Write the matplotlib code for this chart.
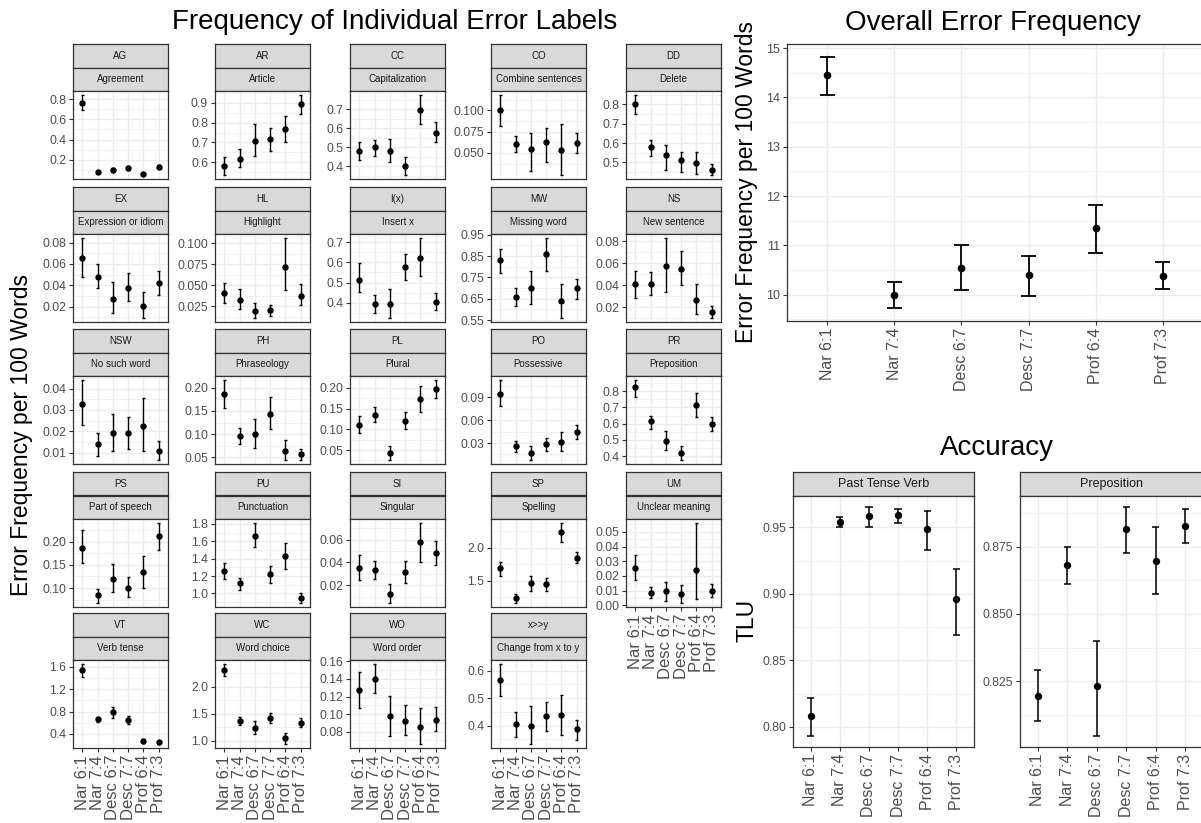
import matplotlib
matplotlib.use("Agg")
import matplotlib.pyplot as plt
import numpy as np

plt.rcParams['font.family'] = ['Liberation Sans', 'DejaVu Sans']

groups = ['Nar 6:1', 'Nar 7:4', 'Desc 6:7', 'Desc 7:7', 'Prof 6:4', 'Prof 7:3']

# error labels (facet grid)
codes = ['AG', 'AR', 'CC', 'CO', 'DD', 'EX', 'HL', 'I(x)', 'MW', 'NS', 'NSW', 'PH',
         'PL', 'PO', 'PR', 'PS', 'PU', 'SI', 'SP', 'UM', 'VT', 'WC', 'WO', 'x>>y']
names = ['Agreement', 'Article', 'Capitalization', 'Combine sentences', 'Delete',
         'Expression or idiom', 'Highlight', 'Insert x', 'Missing word', 'New sentence',
         'No such word', 'Phraseology', 'Plural', 'Possessive', 'Preposition',
         'Part of speech', 'Punctuation', 'Singular', 'Spelling', 'Unclear meaning',
         'Verb tense', 'Word choice', 'Word order', 'Change from x to y']

means = [
    [0.76, 0.08, 0.10, 0.12, 0.06, 0.13],
    [0.58, 0.615, 0.705, 0.715, 0.77, 0.895],
    [0.48, 0.50, 0.48, 0.40, 0.695, 0.575],
    [0.100, 0.060, 0.054, 0.063, 0.053, 0.062],
    [0.80, 0.582, 0.536, 0.515, 0.497, 0.463],
    [0.066, 0.048, 0.027, 0.038, 0.021, 0.042],
    [0.041, 0.032, 0.019, 0.021, 0.0715, 0.037],
    [0.515, 0.395, 0.393, 0.575, 0.62, 0.403],
    [0.83, 0.66, 0.70, 0.86, 0.64, 0.70],
    [0.041, 0.041, 0.057, 0.055, 0.0265, 0.0155],
    [0.033, 0.014, 0.0193, 0.0193, 0.0225, 0.011],
    [0.186, 0.0965, 0.10, 0.144, 0.064, 0.056],
    [0.11, 0.135, 0.044, 0.12, 0.173, 0.198],
    [0.0947, 0.0257, 0.0171, 0.0283, 0.031, 0.0446],
    [0.824, 0.614, 0.496, 0.42, 0.713, 0.60],
    [0.187, 0.0843, 0.12, 0.101, 0.134, 0.211],
    [1.258, 1.115, 1.66, 1.22, 1.425, 0.95],
    [0.0348, 0.0336, 0.0119, 0.0313, 0.0577, 0.0484],
    [1.69, 1.24, 1.465, 1.45, 2.24, 1.85],
    [0.0256, 0.0082, 0.0096, 0.0078, 0.0238, 0.010],
    [1.54, 0.66, 0.79, 0.645, 0.27, 0.25],
    [2.31, 1.37, 1.245, 1.43, 1.05, 1.325],
    [0.127, 0.14, 0.098, 0.0925, 0.0857, 0.0937],
    [0.564, 0.406, 0.40, 0.436, 0.44, 0.386],
]
lows = [
    [0.69, 0.07, 0.08, 0.10, 0.05, 0.12],
    [0.535, 0.575, 0.63, 0.655, 0.70, 0.845],
    [0.431, 0.452, 0.42, 0.353, 0.624, 0.528],
    [0.082, 0.0507, 0.0285, 0.0388, 0.024, 0.050],
    [0.752, 0.532, 0.462, 0.449, 0.44, 0.435],
    [0.0474, 0.0375, 0.0145, 0.025, 0.0095, 0.031],
    [0.029, 0.022, 0.011, 0.013, 0.044, 0.027],
    [0.455, 0.35, 0.325, 0.515, 0.53, 0.363],
    [0.77, 0.615, 0.625, 0.78, 0.56, 0.65],
    [0.028, 0.031, 0.034, 0.040, 0.0135, 0.010],
    [0.023, 0.0086, 0.0106, 0.0118, 0.011, 0.0066],
    [0.156, 0.079, 0.07, 0.111, 0.044, 0.045],
    [0.09, 0.118, 0.026, 0.10, 0.141, 0.176],
    [0.078, 0.0186, 0.0077, 0.019, 0.020, 0.0356],
    [0.764, 0.57, 0.44, 0.376, 0.64, 0.557],
    [0.154, 0.068, 0.0914, 0.08, 0.101, 0.182],
    [1.17, 1.04, 1.53, 1.115, 1.28, 0.89],
    [0.0241, 0.0255, 0.0043, 0.022, 0.0406, 0.038],
    [1.575, 1.165, 1.35, 1.34, 2.09, 1.765],
    [0.0171, 0.0051, 0.0029, 0.0016, 0.0044, 0.006],
    [1.42, 0.61, 0.68, 0.57, 0.23, 0.22],
    [2.19, 1.29, 1.12, 1.32, 0.94, 1.25],
    [0.107, 0.124, 0.075, 0.076, 0.066, 0.081],
    [0.506, 0.36, 0.333, 0.382, 0.364, 0.348],
]
highs = [
    [0.84, 0.09, 0.12, 0.14, 0.07, 0.145],
    [0.625, 0.665, 0.795, 0.775, 0.835, 0.94],
    [0.529, 0.538, 0.545, 0.448, 0.774, 0.633],
    [0.118, 0.0698, 0.073, 0.0788, 0.084, 0.073],
    [0.848, 0.617, 0.59, 0.553, 0.553, 0.494],
    [0.0843, 0.0597, 0.043, 0.052, 0.034, 0.0537],
    [0.053, 0.045, 0.029, 0.027, 0.106, 0.051],
    [0.595, 0.44, 0.47, 0.64, 0.72, 0.45],
    [0.885, 0.70, 0.78, 0.935, 0.72, 0.745],
    [0.053, 0.052, 0.083, 0.071, 0.041, 0.021],
    [0.044, 0.0194, 0.0283, 0.0265, 0.0355, 0.0153],
    [0.217, 0.114, 0.132, 0.18, 0.088, 0.068],
    [0.133, 0.155, 0.059, 0.143, 0.205, 0.219],
    [0.1127, 0.033, 0.0266, 0.037, 0.045, 0.0536],
    [0.869, 0.648, 0.557, 0.46, 0.786, 0.64],
    [0.225, 0.099, 0.151, 0.124, 0.169, 0.24],
    [1.355, 1.18, 1.81, 1.31, 1.58, 1.0],
    [0.046, 0.041, 0.021, 0.041, 0.0745, 0.0585],
    [1.78, 1.30, 1.575, 1.54, 2.375, 1.94],
    [0.034, 0.0127, 0.0162, 0.014, 0.056, 0.0144],
    [1.65, 0.70, 0.89, 0.72, 0.30, 0.27],
    [2.42, 1.44, 1.36, 1.52, 1.14, 1.42],
    [0.148, 0.157, 0.121, 0.11, 0.107, 0.108],
    [0.624, 0.451, 0.473, 0.487, 0.513, 0.422],
]
tick_labels = [
    ['0.2', '0.4', '0.6', '0.8'], ['0.6', '0.7', '0.8', '0.9'],
    ['0.4', '0.5', '0.6', '0.7'], ['0.050', '0.075', '0.100'],
    ['0.5', '0.6', '0.7', '0.8'], ['0.02', '0.04', '0.06', '0.08'],
    ['0.025', '0.050', '0.075', '0.100'], ['0.4', '0.5', '0.6', '0.7'],
    ['0.55', '0.65', '0.75', '0.85', '0.95'], ['0.02', '0.04', '0.06', '0.08'],
    ['0.01', '0.02', '0.03', '0.04'], ['0.05', '0.10', '0.15', '0.20'],
    ['0.05', '0.10', '0.15', '0.20'], ['0.03', '0.06', '0.09'],
    ['0.4', '0.5', '0.6', '0.7', '0.8'], ['0.10', '0.15', '0.20'],
    ['1.0', '1.2', '1.4', '1.6', '1.8'], ['0.02', '0.04', '0.06'],
    ['1.5', '2.0'], ['0.00', '0.01', '0.02', '0.03', '0.04', '0.05'],
    ['0.4', '0.8', '1.2', '1.6'], ['1.0', '1.5', '2.0'],
    ['0.08', '0.10', '0.12', '0.14', '0.16'], ['0.4', '0.5', '0.6'],
]

# overall error frequency
overall_mean = [14.45, 10.0, 10.54, 10.39, 11.35, 10.37]
overall_lo = [14.06, 9.72, 10.10, 9.98, 10.85, 10.12]
overall_hi = [14.83, 10.26, 11.0, 10.78, 11.82, 10.67]
overall_ticks = ['10', '11', '12', '13', '14', '15']

# accuracy (TLU)
acc_panels = ['Past Tense Verb', 'Preposition']
acc_mean = [[0.808, 0.9543, 0.9585, 0.959, 0.9488, 0.896],
            [0.8194, 0.8682, 0.8234, 0.8815, 0.8698, 0.8826]]
acc_lo = [[0.7935, 0.950, 0.9505, 0.9535, 0.9333, 0.869],
          [0.8102, 0.8612, 0.8048, 0.8728, 0.8574, 0.8765]]
acc_hi = [[0.822, 0.958, 0.965, 0.9638, 0.9625, 0.919],
          [0.8293, 0.875, 0.840, 0.8896, 0.8822, 0.8891]]
acc_ticks = [['0.80', '0.85', '0.90', '0.95'], ['0.825', '0.850', '0.875']]

W, H = 1201, 823
GRID = '#EBEBEB'
EDGE = '#333333'
TXT = '#4D4D4D'
STRIP = '#D9D9D9'

fig = plt.figure(figsize=(W / 100, H / 100), dpi=100)


def add_box(l, t, r, b):
    return fig.add_axes([l / W, 1 - b / H, (r - l) / W, (b - t) / H])


def strip(l, t, r, b, text, fs):
    s = add_box(l, t, r, b)
    s.set_facecolor(STRIP)
    s.set_xticks([])
    s.set_yticks([])
    for sp in s.spines.values():
        sp.set_color(EDGE)
        sp.set_linewidth(0.9)
    s.text(0.5, 0.5, text, ha='center', va='center', fontsize=fs, color='#1A1A1A',
           transform=s.transAxes)


def panel(ax, m, lo, hi, labels, ytick_fs, show_x, xtick_fs, ms, lw, cap):
    x = np.arange(1, len(m) + 1)
    ax.vlines(x, lo, hi, color='black', lw=lw, zorder=3)
    ax.hlines(lo, x - cap / 2, x + cap / 2, color='black', lw=lw, zorder=3)
    ax.hlines(hi, x - cap / 2, x + cap / 2, color='black', lw=lw, zorder=3)
    ax.plot(x, m, 'o', color='black', ms=ms, zorder=4)

    ticks = [float(t) for t in labels]
    step = ticks[1] - ticks[0]
    minor = np.arange(ticks[0] - step / 2, ticks[-1] + step * 0.6, step)
    ax.set_yticks(ticks)
    ax.set_yticklabels(labels)
    ax.set_yticks(minor, minor=True)
    ax.set_xticks(x)
    if show_x:
        ax.set_xticklabels(groups, rotation=90, fontsize=xtick_fs, color=TXT)
    else:
        ax.tick_params(axis='x', bottom=False, labelbottom=False)
    ax.grid(which='major', color=GRID, lw=1.0)
    ax.grid(which='minor', axis='y', color=GRID, lw=0.5)
    ax.set_axisbelow(True)
    ax.tick_params(which='minor', length=0)
    ax.tick_params(which='major', length=3, width=0.8, color=EDGE, pad=2)
    ax.tick_params(axis='y', labelsize=ytick_fs, labelcolor=TXT)
    for sp in ax.spines.values():
        sp.set_color(EDGE)
        sp.set_linewidth(0.9)

    ymin, ymax = min(lo), max(hi)
    r = ymax - ymin
    ax.set_ylim(ymin - 0.05 * r, ymax + 0.05 * r)
    ax.set_xlim(0.4, len(m) + 0.6)


# left facet grid
col_left = [73, 215, 350, 491, 626]
row_top = [44, 187, 329, 472, 613]
pw, sh, ph = 95, 23.5, 88
for i, code in enumerate(codes):
    l = col_left[i % 5]
    t = row_top[i // 5]
    strip(l, t, l + pw, t + sh, code, 7)
    strip(l, t + sh, l + pw, t + 2 * sh, names[i], 7)
    ax = add_box(l, t + 2 * sh, l + pw, t + 2 * sh + ph)
    panel(ax, means[i], lows[i], highs[i], tick_labels[i], 8.8, i >= 19, 12,
          3.6, 1.0, 0.2)

fig.text(395 / W, 1 - 22 / H, 'Frequency of Individual Error Labels',
         ha='center', va='center', fontsize=20)
fig.text(22 / W, 1 - 435 / H, 'Error Frequency per 100 Words', rotation=90,
         ha='center', va='center', fontsize=16.5)

# overall error frequency
ax = add_box(787, 44, 1203, 321)
panel(ax, overall_mean, overall_lo, overall_hi, overall_ticks, 9, True, 11.5,
      4.5, 1.3, 0.22)
fig.text(993 / W, 1 - 23 / H, 'Overall Error Frequency',
         ha='center', va='center', fontsize=20)
fig.text(747 / W, 1 - 182 / H, 'Error Frequency per 100 Words', rotation=90,
         ha='center', va='center', fontsize=16.5)

# accuracy
acc_left = [793, 1020]
acc_right = [974, 1203]
for k, name in enumerate(acc_panels):
    strip(acc_left[k], 472, acc_right[k], 496, name, 9)
    ax = add_box(acc_left[k], 496, acc_right[k], 747)
    panel(ax, acc_mean[k], acc_lo[k], acc_hi[k], acc_ticks[k], 8.8, True, 11.5,
          4.3, 1.1, 0.25)
fig.text(997 / W, 1 - 448 / H, 'Accuracy', ha='center', va='center', fontsize=20)
fig.text(747 / W, 1 - 620 / H, 'TLU', rotation=90, ha='center', va='center',
         fontsize=16.5)

fig.savefig('out.png', dpi=100)
